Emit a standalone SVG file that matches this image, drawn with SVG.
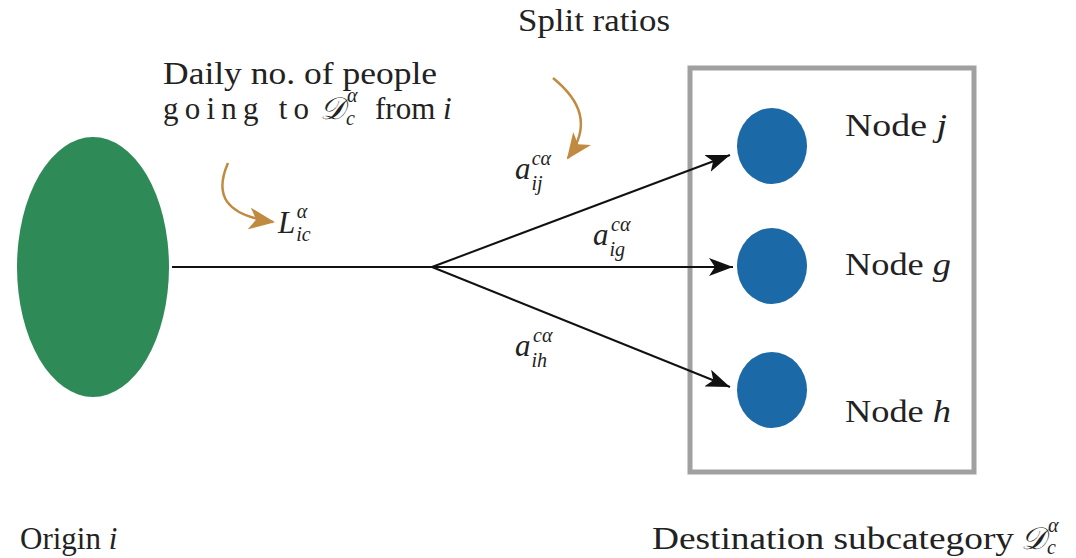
<svg xmlns="http://www.w3.org/2000/svg" width="1076" height="558" viewBox="0 0 1076 558">
<defs>
<style>
.f{font-family:'Liberation Serif',serif;font-size:31px;fill:#222}
.it{font-style:italic}
.sub{font-family:'Liberation Serif',serif;font-size:20px;font-style:italic;fill:#222}
.conn{stroke:#111;stroke-width:2;fill:none}
.brown{stroke:#c08a40;stroke-width:2.5;fill:none}
.blue{fill:#1b69a6}
</style>
<marker id="ah" viewBox="0 0 24 18" refX="24" refY="9" markerWidth="24" markerHeight="18" markerUnits="userSpaceOnUse" orient="auto">
<path d="M0,0 L24,9 L0,18 L6,9 Z" fill="#111"/>
</marker>
<marker id="bh" viewBox="0 0 26 22" refX="24" refY="11" markerWidth="26" markerHeight="22" markerUnits="userSpaceOnUse" orient="auto">
<path d="M0,0 L26,11 L0,22 L7,11 Z" fill="#c08a40"/>
</marker>
</defs>
<g id="origin">
<ellipse cx="93" cy="267" rx="76" ry="130" fill="#2e8b57"/>
<text class="f" x="20" y="549" style="font-family:'Liberation Serif',serif !important">Origin <tspan class="it">i</tspan></text>
</g>
<g id="destination">
<rect x="690" y="68" width="284" height="404" fill="none" stroke="#a0a0a0" stroke-width="5"/>
<text class="f" x="652" y="549" textLength="362" lengthAdjust="spacingAndGlyphs" style="font-family:'Liberation Serif',serif !important">Destination subcategory</text>
<text class="f it" x="1021" y="549" style="font-family:'Liberation Serif',serif !important">𝒟<tspan class="sub" dx="1" dy="5" style="font-family:'Liberation Serif',serif !important">c</tspan><tspan class="sub" dx="-8" dy="-22" style="font-family:'Liberation Serif',serif !important">α</tspan></text>
</g>
<g id="node-j">
<ellipse class="blue" cx="772" cy="146" rx="35" ry="38"/>
<text class="f" x="845" y="136" textLength="102" lengthAdjust="spacingAndGlyphs" style="font-family:'Liberation Serif',serif !important">Node <tspan class="it">j</tspan></text>
</g>
<g id="node-g">
<ellipse class="blue" cx="772" cy="266" rx="35" ry="38"/>
<text class="f" x="845" y="275" textLength="106" lengthAdjust="spacingAndGlyphs" style="font-family:'Liberation Serif',serif !important">Node <tspan class="it">g</tspan></text>
</g>
<g id="node-h">
<ellipse class="blue" cx="772" cy="390" rx="35" ry="38"/>
<text class="f" x="845" y="422" textLength="106" lengthAdjust="spacingAndGlyphs" style="font-family:'Liberation Serif',serif !important">Node <tspan class="it">h</tspan></text>
</g>
<g id="connectors">
<line class="conn" x1="172" y1="267" x2="432" y2="267"/>
<line class="conn" x1="432" y1="267" x2="730" y2="155" marker-end="url(#ah)"/>
<line class="conn" x1="432" y1="267" x2="733" y2="267" marker-end="url(#ah)"/>
<line class="conn" x1="432" y1="267" x2="730" y2="387" marker-end="url(#ah)"/>
<path class="brown" d="M228,163 C214,195 225,215 273,222" marker-end="url(#bh)"/>
<path class="brown" d="M553,78 C580,100 592,125 568,158" marker-end="url(#bh)"/>
</g>
<g id="labels">
<text class="f" x="518" y="31" textLength="152" lengthAdjust="spacingAndGlyphs" style="font-family:'Liberation Serif',serif !important">Split ratios</text>
<text class="f" x="163" y="84" textLength="274" lengthAdjust="spacingAndGlyphs" style="font-family:'Liberation Serif',serif !important">Daily no. of people</text>
<text class="f" x="163" y="119" style="font-family:'Liberation Serif',serif !important"><tspan textLength="146" lengthAdjust="spacing">going to</tspan><tspan class="it" x="320" style="font-family:'Liberation Serif',serif !important">𝒟</tspan><tspan class="sub" dx="1" dy="6" style="font-family:'Liberation Serif',serif !important">c</tspan><tspan class="sub" dx="-8" dy="-23" style="font-family:'Liberation Serif',serif !important">α</tspan><tspan x="375" dy="17">from </tspan><tspan class="it">i</tspan></text>
<text class="f it" x="278" y="233" style="font-family:'Liberation Serif',serif !important">L<tspan class="sub" dx="1" dy="8" style="font-family:'Liberation Serif',serif !important">ic</tspan><tspan class="sub" dx="-14" dy="-23" style="font-family:'Liberation Serif',serif !important">α</tspan></text>
<text class="f it" x="515" y="179" style="font-family:'Liberation Serif',serif !important">a<tspan class="sub" dx="1" dy="11" style="font-family:'Liberation Serif',serif !important">ij</tspan><tspan class="sub" dx="-11" dy="-25" style="font-family:'Liberation Serif',serif !important">cα</tspan></text>
<text class="f it" x="593" y="245" style="font-family:'Liberation Serif',serif !important">a<tspan class="sub" dx="1" dy="11" style="font-family:'Liberation Serif',serif !important">ig</tspan><tspan class="sub" dx="-14" dy="-25" style="font-family:'Liberation Serif',serif !important">cα</tspan></text>
<text class="f it" x="515" y="356" style="font-family:'Liberation Serif',serif !important">a<tspan class="sub" dx="1" dy="11" style="font-family:'Liberation Serif',serif !important">ih</tspan><tspan class="sub" dx="-14" dy="-25" style="font-family:'Liberation Serif',serif !important">cα</tspan></text>
</g>
</svg>
